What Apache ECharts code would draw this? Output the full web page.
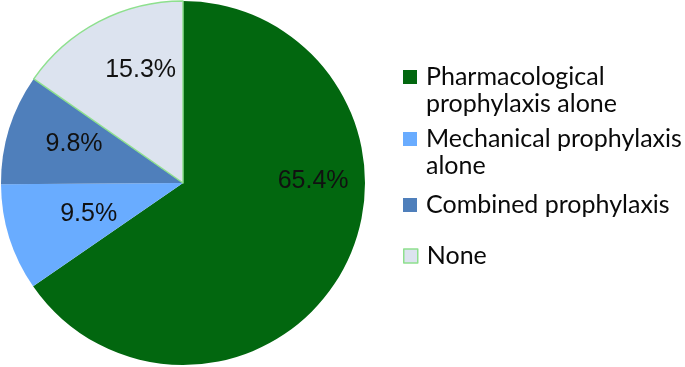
<!DOCTYPE html>
<html>
<head>
<meta charset="utf-8">
<script src="https://cdn.jsdelivr.net/npm/echarts@6/dist/echarts.min.js"></script>
<style>
html,body{margin:0;padding:0;background:#fff;}
#chart{width:685px;height:367px;}
</style>
</head>
<body>
<div id="chart"></div>
<script>
const categories = ['Pharmacological prophylaxis alone', 'Mechanical prophylaxis alone', 'Combined prophylaxis', 'None'];
const legendLabels = ['Pharmacological\nprophylaxis alone', 'Mechanical prophylaxis\nalone', 'Combined prophylaxis', 'None'];
const values = [65.4, 9.5, 9.8, 15.3];
const colors = ['#02670F', '#69ACFF', '#4F7FBB', '#DCE3EF'];

// label placement (angle clockwise from 12 o'clock in degrees, distance as fraction of radius)
const labelPlace = [[89, 0.715], [252, 0.545], [289.5, 0.635], [339.5, 0.665]];
const CX = 183, CY = 183, R = 182;

const chart = echarts.init(document.getElementById('chart'));

// marker centre targets: 77, 139, 205, 256
const legendTops = [36.5, 98.5, 191.5, 242.5];
const legends = categories.map((c, i) => {
  const multi = legendLabels[i].indexOf('\n') >= 0;
  return {
    data: [c],
    left: 403,
    top: legendTops[i],
    padding: 0,
    orient: 'vertical',
    itemWidth: 14,
    itemHeight: 14,
    itemGap: 0,
    icon: 'rect',
    selectedMode: false,
    formatter: () => (multi ? '\n' : '') + legendLabels[i],
    itemStyle: i === 3 ? { borderColor: '#8EE08E', borderWidth: 1.5 } : {},
    textStyle: {
      fontFamily: 'Lato',
      fontSize: 25,
      color: '#0a0a0a',
      lineHeight: 27,
      padding: [0, 0, 0, 4]
    }
  };
});

chart.setOption({
  animation: false,
  color: colors,
  legend: legends,
  series: [{
    type: 'pie',
    center: [CX, CY],
    radius: R,
    startAngle: 90,
    clockwise: true,
    silent: true,
    data: categories.map((c, i) => ({
      name: c,
      value: values[i],
      itemStyle: i === 3 ? { borderColor: '#8EE08E', borderWidth: 1.5 } : { borderWidth: 0 }
    })),
    label: {
      show: true,
      position: 'inside',
      formatter: p => p.value.toFixed(1) + '%',
      fontFamily: 'Liberation Sans',
      fontSize: 25,
      color: '#111'
    },
    labelLine: { show: false },
    labelLayout: function (params) {
      const lp = labelPlace[params.dataIndex];
      const a = lp[0] * Math.PI / 180;
      return {
        x: CX + Math.sin(a) * lp[1] * R,
        y: CY - Math.cos(a) * lp[1] * R,
        align: 'center',
        verticalAlign: 'middle'
      };
    }
  }]
});
</script>
</body>
</html>
